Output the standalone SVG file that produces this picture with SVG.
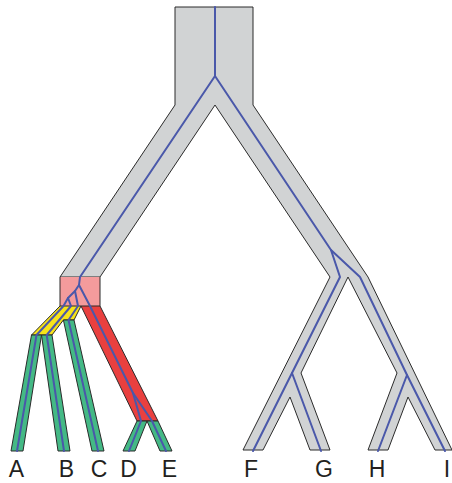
<svg xmlns="http://www.w3.org/2000/svg" width="452" height="483" viewBox="0 0 452 483">
<style>
.sp{fill:#d1d3d4;stroke:#2b2b2b;stroke-width:1;stroke-linejoin:miter}
.pink{fill:#f49b9c;stroke:none}
.red{fill:#e9403f;stroke:#2b2b2b;stroke-width:1}
.yel{fill:#f7e31a;stroke:#2b2b2b;stroke-width:1}
.grn{fill:#44b985;stroke:#2b2b2b;stroke-width:1}
.edge{stroke:#2b2b2b;stroke-width:1;fill:none}
.gene{fill:none;stroke:#4a58aa;stroke-width:2;stroke-linejoin:round;stroke-linecap:round}
.lbl{font-family:"Liberation Sans",Arial,sans-serif;font-size:23px;fill:#231f20;text-anchor:middle}
</style>
<rect width="452" height="483" fill="#ffffff"/>
<g id="species-tree">
  <polygon id="species-outline" class="sp" points="175,7 253,7 253,105 368,277 452,450 435,450 408,397 388,450 368,450 397,373 348,277 301,373 330,450 310,450 290,397 263,450 243,450 330,277 215,105 100,277 60,277 175,105"/>
  <g id="node-ABCDE">
    <rect class="pink" x="60" y="277" width="40" height="29"/>
    <line class="edge" x1="60" y1="277" x2="60" y2="306"/>
    <line class="edge" x1="100" y1="277" x2="100" y2="306"/>
  </g>
  <polygon id="branch-ABC" class="yel" points="60,306 81,306 74,320 63.4,320 52,335 31.5,335"/>
  <polygon id="branch-DE" class="red" points="81,306 100,306 158,421 137,421"/>
  <polygon id="leaf-A" class="grn" points="31.5,335 41.5,335 23,451 11,451"/>
  <polygon id="leaf-B" class="grn" points="41.5,335 52,335 70,451 58,451"/>
  <polygon id="leaf-C" class="grn" points="63.4,320 74,320 104,451 92,451"/>
  <polygon id="leaf-D" class="grn" points="137,421 147,421 135,451 123,451"/>
  <polygon id="leaf-E" class="grn" points="147,421 158,421 172,451 160,451"/>
</g>
<g id="gene-tree">
  <polyline class="gene" points="215,7 215,76 80,277 79,285 90,306 133,393 141,421 129,451"/>
  <polyline class="gene" points="133,393 152,421 166,451"/>
  <polyline class="gene" points="79,285 75,291 68,298 63.5,306 36.5,335 17,451"/>
  <polyline class="gene" points="68,298 71,306 46.7,335 64,451"/>
  <polyline class="gene" points="75,291 78,306 68.5,320 98,451"/>
  <polyline class="gene" points="215,76 331,250 340,277 292,373 253,451"/>
  <polyline class="gene" points="292,373 321,451"/>
  <polyline class="gene" points="331,250 360,277 407,375 378,451"/>
  <polyline class="gene" points="407,375 445,451"/>
</g>
<g id="labels">
  <text class="lbl" x="16.5" y="477">A</text>
  <text class="lbl" x="66.5" y="477">B</text>
  <text class="lbl" x="99" y="477">C</text>
  <text class="lbl" x="128.5" y="477">D</text>
  <text class="lbl" x="169.5" y="477">E</text>
  <text class="lbl" x="251" y="477">F</text>
  <text class="lbl" x="324" y="477">G</text>
  <text class="lbl" x="377" y="477">H</text>
  <text class="lbl" x="447" y="477">I</text>
</g>
</svg>
